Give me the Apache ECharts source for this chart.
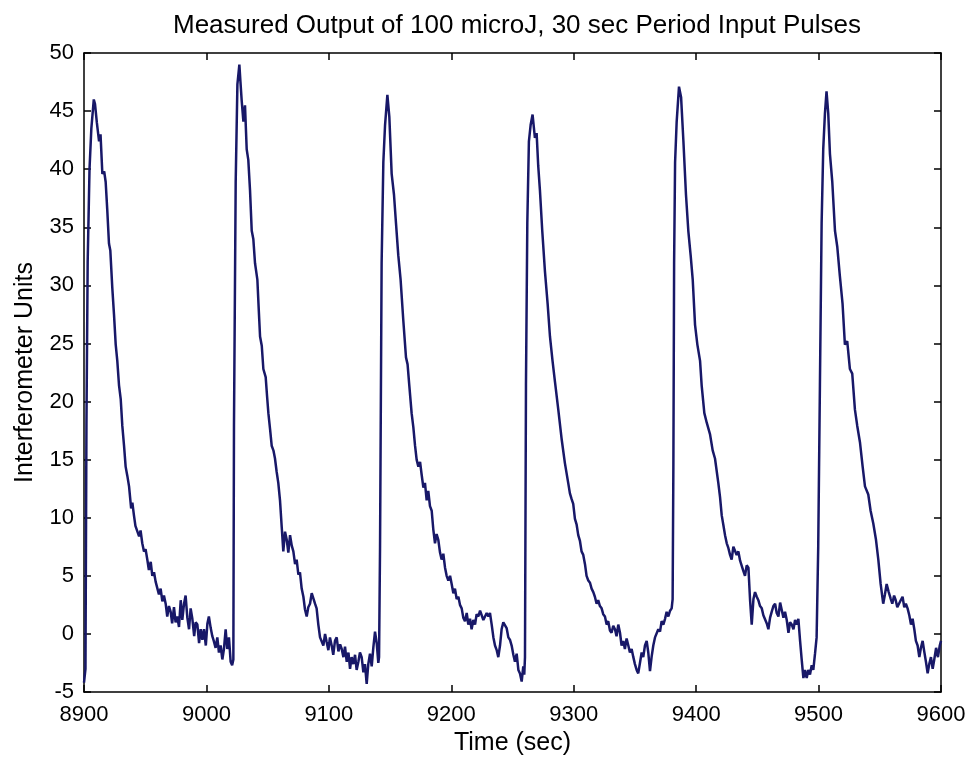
<!DOCTYPE html>
<html>
<head>
  <meta charset="UTF-8">
  <title>Measured Output</title>
  <script src="https://cdn.jsdelivr.net/npm/echarts@6/dist/echarts.min.js"></script>
</head>
<body style="margin:0; background:#fff">
  <div id="chart" style="width: 972px; height: 761px"></div>
  <script>
    // time (sec) and interferometer reading
    var times = [
      8900.0, 8901.2, 8902.0, 8903.0, 8904.5, 8906.0, 8908.0, 8909.0, 8910.5, 8912.3,
      8913.5, 8915.0, 8916.5, 8917.7, 8919.0, 8920.4, 8921.5, 8923.1, 8924.5, 8925.9,
      8927.2, 8928.6, 8930.0, 8931.3, 8932.7, 8934.0, 8935.4, 8936.8, 8938.5, 8939.5,
      8940.8, 8942.0, 8943.6, 8945.0, 8946.2, 8947.6, 8949.0, 8950.3, 8951.7, 8953.0,
      8954.5, 8955.8, 8957.2, 8958.5, 8960.0, 8961.2, 8962.6, 8964.0, 8965.3, 8966.7,
      8968.0, 8969.4, 8970.8, 8972.0, 8973.5, 8974.8, 8976.2, 8977.6, 8979.0, 8980.3,
      8981.7, 8983.0, 8984.4, 8985.8, 8987.1, 8988.5, 8990.0, 8991.2, 8992.6, 8994.0,
      8995.3, 8996.7, 8998.0, 8999.5, 9000.8, 9002.0, 9003.5, 9004.8, 9006.0, 9007.5,
      9008.9, 9010.2, 9011.6, 9013.0, 9014.3, 9015.7, 9017.0, 9018.4, 9019.8, 9021.0,
      9022.0,
      9022.5, 9023.9, 9025.3, 9026.9, 9027.8, 9028.8, 9030.2, 9031.5, 9032.9, 9034.2,
      9035.6, 9037.0, 9038.3, 9039.7, 9041.6, 9042.7, 9043.8, 9045.2, 9046.5, 9048.4,
      9049.5, 9050.6, 9052.0, 9053.3, 9054.7, 9056.0, 9057.3, 9058.7, 9060.1, 9061.5,
      9062.8, 9064.2, 9065.6, 9066.9, 9068.3, 9069.7, 9071.0, 9072.4, 9073.7, 9075.1,
      9076.4, 9077.8, 9079.2, 9080.5, 9081.9, 9083.2, 9084.6, 9086.0, 9087.3, 9088.7,
      9090.0, 9091.4, 9092.8, 9094.1, 9095.5, 9096.9, 9098.2, 9099.6, 9100.9, 9102.3,
      9103.6, 9105.0, 9106.4, 9107.8, 9109.2, 9110.5, 9111.9, 9113.2, 9114.6, 9116.0,
      9117.3, 9118.6, 9120.0, 9121.4, 9122.7, 9124.1, 9125.4, 9126.8, 9128.2, 9129.5,
      9130.9, 9132.2, 9133.6, 9135.0, 9136.3, 9137.7, 9139.1, 9140.4, 9141.0,
      9141.8, 9143.1, 9144.5, 9145.9, 9147.8, 9149.4, 9151.3, 9153.2, 9154.8, 9156.7,
      9158.6, 9160.8, 9163.0, 9164.3, 9165.7, 9167.6, 9169.0, 9170.4, 9171.7, 9173.1,
      9174.5, 9175.8, 9177.2, 9178.5, 9179.9, 9181.2, 9182.6, 9184.0, 9185.3, 9186.7,
      9188.0, 9189.4, 9190.8, 9192.1, 9193.5, 9194.9, 9196.2, 9197.6, 9199.0, 9200.3,
      9201.7, 9203.0, 9204.4, 9205.8, 9207.1, 9208.5, 9209.8, 9211.2, 9212.6, 9213.9,
      9215.3, 9216.6, 9218.0, 9219.4, 9220.7, 9222.1, 9223.5, 9224.8, 9226.2, 9227.5,
      9228.9, 9230.3, 9231.6, 9233.0, 9234.4, 9235.7, 9237.1, 9238.4, 9239.8, 9241.1,
      9242.5, 9243.9, 9245.2, 9246.6, 9247.9, 9249.3, 9250.7, 9252.0, 9253.4, 9254.8,
      9256.1, 9257.5, 9258.8, 9259.6, 9260.2,
      9261.0, 9262.1, 9263.4, 9264.8, 9266.4, 9268.3, 9269.7, 9271.0, 9272.4, 9274.3,
      9276.5, 9278.7, 9280.6, 9282.7, 9284.7, 9287.4, 9290.1, 9292.8, 9295.5, 9296.9,
      9298.3, 9299.6, 9301.0, 9302.4, 9303.7, 9305.1, 9306.4, 9307.8, 9309.2, 9310.5,
      9311.9, 9313.3, 9314.6, 9316.0, 9317.3, 9318.7, 9320.0, 9321.4, 9322.8, 9324.1,
      9325.5, 9326.9, 9328.2, 9329.6, 9330.9, 9332.3, 9333.7, 9335.0, 9336.4, 9337.8,
      9339.1, 9340.5, 9341.8, 9343.2, 9344.6, 9345.9, 9347.3, 9348.7, 9350.0, 9351.4,
      9352.7, 9354.1, 9355.5, 9356.8, 9358.2, 9359.6, 9360.9, 9362.3, 9363.6, 9365.0,
      9366.4, 9367.7, 9369.1, 9370.5, 9371.8, 9373.2, 9374.6, 9375.9, 9377.3, 9378.7,
      9380.0, 9380.8,
      9381.4, 9382.0, 9382.8, 9384.1, 9386.0, 9387.7, 9389.6, 9391.7, 9393.6, 9395.5,
      9397.2, 9399.1, 9401.0, 9403.2, 9404.5, 9406.7, 9408.6, 9411.3, 9413.5, 9415.4,
      9418.1, 9419.5, 9420.9, 9422.2, 9423.6, 9425.0, 9426.3, 9427.7, 9429.0, 9430.4,
      9431.8, 9433.1, 9434.5, 9435.9, 9437.2, 9438.6, 9439.9, 9441.3, 9442.7, 9444.0,
      9445.4, 9446.8, 9448.1, 9449.5, 9450.8, 9452.2, 9453.6, 9454.9, 9456.3, 9457.7,
      9459.0, 9460.4, 9461.7, 9463.1, 9464.5, 9465.8, 9467.2, 9468.6, 9469.9, 9471.3,
      9472.6, 9474.0, 9475.4, 9476.7, 9478.1, 9479.5, 9480.8, 9482.2, 9483.5, 9484.9,
      9486.2, 9487.6, 9488.9, 9490.3, 9491.6, 9493.0, 9494.4, 9495.7, 9497.1, 9498.4,
      9499.7, 9501.1, 9502.5, 9503.8, 9505.2, 9506.5, 9507.9, 9509.3, 9511.2, 9513.4,
      9515.3, 9517.4, 9519.6, 9521.5, 9523.4, 9525.6, 9527.5, 9529.7, 9531.6, 9533.8,
      9536.0, 9537.9, 9540.6, 9542.5, 9544.7, 9546.9, 9548.8, 9550.7, 9552.8, 9554.2,
      9555.6, 9557.3, 9559.0, 9560.2, 9561.7, 9563.0, 9564.3, 9565.7, 9567.1, 9568.6,
      9570.0, 9571.3, 9572.7, 9574.1, 9575.5, 9576.8, 9578.2, 9579.5, 9580.9, 9582.3,
      9583.6, 9585.0, 9586.3, 9587.7, 9589.1, 9590.4, 9591.8, 9593.2, 9594.5, 9596.0,
      9597.5, 9599.0, 9600.0
    ];
    var values = [
      -4.2, -3.0, 18, 32, 40, 43.5, 46.0, 45.6, 44.0, 42.4,
      43.0, 39.6, 39.8, 38.9, 36.5, 33.6, 33.0, 29.8, 27.5, 24.9,
      23.5, 21.4, 20.2, 17.9, 16.2, 14.4, 13.6, 12.7, 10.8, 11.3,
      10.2, 9.3, 9.2, 8.4, 8.9, 7.8, 7.1, 7.3, 6.4, 5.5,
      6.2, 5.0, 5.3, 4.5, 4.6, 3.4, 3.9, 2.8, 3.3, 2.6,
      1.5, 2.4, 1.9, 0.9, 2.3, 1.0, 1.5, 0.6, 2.9, 1.2,
      2.6, 3.3, 1.4, 0.4, 2.2, 1.3, -0.2, 1.0, 0.8, -0.8,
      0.4, -0.5, 0.4, -1.0, 0.9, 1.5, 0.5, -0.2, -0.6, -1.2,
      -0.3, -1.6, -1.0, -2.2, -1.3, 0.4, -1.3, -0.3, -2.4, -2.7,
      -2.2,
      17.9, 38.9, 47.3, 49.0, 47.5, 45.9, 44.1, 45.5, 41.7, 40.8,
      38.2, 34.7, 34.0, 31.9, 30.5, 28.0, 25.6, 24.8, 22.8, 22.1,
      20.5, 19.0, 17.6, 16.2, 15.8, 15.1, 14.0, 13.0, 11.5, 9.2,
      7.1, 8.8, 8.1, 7.0, 8.5, 7.6, 7.1, 6.0, 6.4, 5.1,
      5.3, 3.9, 3.2, 2.1, 1.5, 2.3, 2.6, 3.5, 3.6, 2.6,
      2.2, 0.8, -0.3, -0.4, -1.0, 0.0, -0.7, -1.4, -0.3, -1.0,
      -1.8, -0.6, -0.3, -1.5, -0.9, -1.3, -2.0, -1.1, -2.4, -1.6,
      -3.0, -2.0, -2.6, -1.8, -3.1, -2.4, -1.6, -2.0, -3.3, -2.6,
      -4.3, -2.6, -1.7, -2.8, -1.2, 0.2, -0.8, -2.5, -2.0,
      7.4, 31.9, 40.6, 43.8, 46.4, 44.5, 39.6, 37.8, 35.4, 32.6,
      30.5, 27.0, 23.8, 23.2, 21.4, 19.0, 17.8, 16.2, 15.0, 14.4,
      14.8, 13.7, 12.6, 13.0, 11.5, 12.3, 11.0, 10.6, 9.0, 7.8,
      8.6, 8.1, 7.0, 6.4, 6.9, 5.7, 5.0, 4.6, 5.0, 4.3,
      3.5, 3.9, 3.0, 3.2, 2.5, 2.2, 1.4, 1.1, 1.8, 0.8,
      1.3, 0.4, 1.2, 0.8, 1.7, 1.5, 2.0, 1.9, 1.2, 1.1,
      1.8, 1.5, 1.8, 0.8, -0.3, -1.0, -1.4, -2.0, -1.0, 0.4,
      1.0, 1.1, 0.5, -0.3, -0.5, -1.0, -1.8, -2.4, -1.7, -3.1,
      -3.4, -4.1, -2.8, -3.5, -2.0,
      21.4, 35.4, 42.4, 43.8, 44.7, 42.7, 43.1, 40.3, 38.2, 34.7,
      31.2, 28.4, 25.6, 23.5, 21.7, 19.3, 16.8, 14.7, 13.0, 12.1,
      11.6, 11.2, 9.9, 9.4, 8.5, 8.0, 7.1, 6.8, 6.0, 5.0,
      4.6, 4.4, 3.9, 3.6, 3.2, 2.6, 2.9, 2.4, 2.2, 1.7,
      1.5, 0.8, 1.1, 0.3, 0.1, 0.7, 0.4, -0.2, 0.8, 0.1,
      -1.0, -0.6, -1.3, -0.4, -1.0, -1.6, -1.3, -2.0, -2.6, -3.1,
      -3.4, -2.5, -1.6, -2.0, -1.0, -0.6, -1.6, -3.2, -2.0, -1.0,
      -0.3, -0.4, 0.4, 0.2, 1.1, 0.8, 1.3, 1.9, 1.5, 2.0,
      2.2, 3.0,
      14.4, 31.9, 40.6, 44.1, 47.1, 46.2, 42.4, 37.8, 34.7, 32.6,
      30.5, 26.6, 24.9, 23.5, 21.4, 19.0, 18.2, 17.2, 15.8, 15.1,
      13.0, 11.8, 10.2, 9.4, 8.5, 7.8, 7.4, 6.8, 6.4, 7.5,
      7.4, 6.8, 7.1, 6.3, 6.4, 5.4, 5.0, 5.9, 5.7, 3.0,
      0.8, 3.0, 3.6, 3.2, 2.9, 2.4, 2.2, 1.6, 1.5, 0.9,
      0.4, 1.4, 1.9, 2.4, 2.6, 1.8, 1.5, 2.7, 2.6, 1.4,
      1.9, 1.2, 0.1, 1.0, 0.8, 0.4, 1.2, 0.8, 1.3, -0.6,
      -2.2, -3.8, -3.1, -3.8, -3.1, -3.5, -2.7, -3.1, -1.7, -0.3,
      7.4, 21.4, 35.4, 41.7, 44.8, 46.7, 44.8, 41.3, 38.9, 34.7,
      33.3, 30.8, 28.4, 24.9, 25.2, 22.8, 22.4, 19.3, 17.9, 16.5,
      14.4, 12.7, 12.0, 10.6, 9.5, 8.1, 6.4, 4.3, 2.6, 3.4,
      4.3, 3.6, 3.0, 2.6, 3.3, 2.9, 2.3, 2.6, 2.9, 3.2,
      2.3, 2.6, 2.2, 1.6, 0.8, 1.3, 0.4, -0.6, -1.0, -2.0,
      -1.2, -0.6, -1.5, -2.4, -3.4, -2.6, -2.0, -3.0, -2.2, -1.2,
      -2.0, -1.0, -0.6
    ];
    var xTicks = [8900, 9600, 100];
    var yTicks = [-5, 50, 5];

    var points = times.map(function (t, i) { return [t, values[i]]; });

    var myChart = echarts.init(document.getElementById('chart'));
    var font = 'Liberation Sans, Arial, Helvetica, sans-serif';
    var boxAxis = {
      axisLine: { show: true, onZero: false, lineStyle: { color: '#000', width: 1.5 } },
      axisTick: { show: true, inside: true, length: 7, lineStyle: { color: '#000', width: 1.5 } },
      splitLine: { show: false }
    };

    var option = {
      animation: false,
      backgroundColor: '#fff',
      title: {
        text: 'Measured Output of 100 microJ, 30 sec Period Input Pulses',
        left: 168,
        top: 8,
        textStyle: { fontFamily: font, fontSize: 26, fontWeight: 'normal', color: '#000' }
      },
      grid: { left: 84, right: 31, top: 53, bottom: 68 },
      xAxis: [
        Object.assign({
          type: 'value', min: xTicks[0], max: xTicks[1], interval: xTicks[2],
          position: 'bottom',
          name: 'Time (sec)', nameLocation: 'middle', nameGap: 39,
          nameTextStyle: { fontFamily: font, fontSize: 25, color: '#000' },
          axisLabel: {
            fontFamily: font, fontSize: 22, color: '#000', margin: 12,
            formatter: function (v) { return String(v); }
          }
        }, boxAxis),
        Object.assign({
          type: 'value', min: xTicks[0], max: xTicks[1], interval: xTicks[2],
          position: 'top', axisLabel: { show: false }
        }, boxAxis)
      ],
      yAxis: [
        Object.assign({
          type: 'value', min: yTicks[0], max: yTicks[1], interval: yTicks[2],
          position: 'left',
          name: 'Interferometer Units', nameLocation: 'middle', nameGap: 46,
          nameTextStyle: { fontFamily: font, fontSize: 25, color: '#000' },
          axisLabel: { fontFamily: font, fontSize: 22, color: '#000', margin: 10 }
        }, boxAxis),
        Object.assign({
          type: 'value', min: yTicks[0], max: yTicks[1], interval: yTicks[2],
          position: 'right', axisLabel: { show: false }
        }, boxAxis)
      ],
      series: [
        {
          type: 'line',
          data: points,
          showSymbol: false,
          lineStyle: { color: '#181868', width: 2.5 }
        }
      ]
    };
    myChart.setOption(option);
  </script>
</body>
</html>
